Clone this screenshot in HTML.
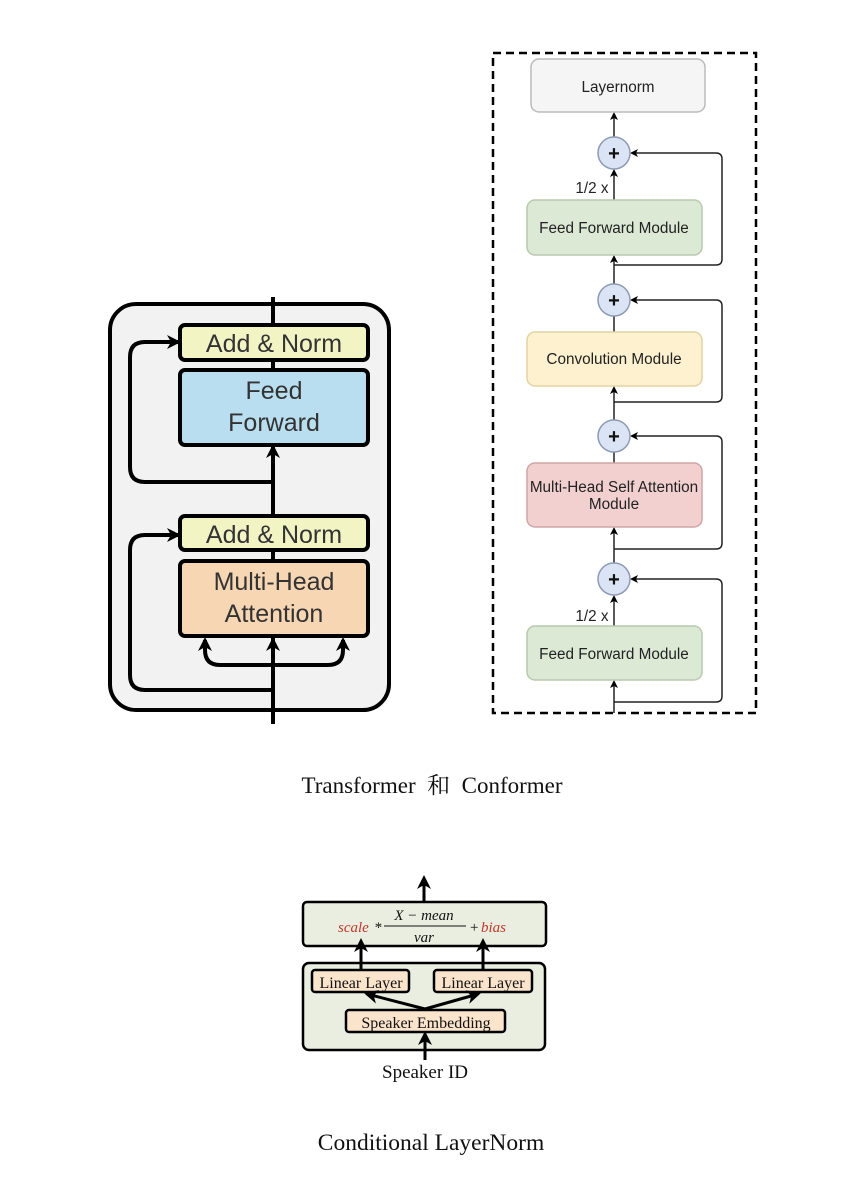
<!DOCTYPE html>
<html><head><meta charset="utf-8"><style>
body{margin:0;background:#fff}
svg{display:block}
.s{font-family:"Liberation Sans",sans-serif}
.r{font-family:"Liberation Serif","Noto Serif CJK SC",serif}
</style></head><body>
<svg width="854" height="1180" viewBox="0 0 854 1180" xmlns="http://www.w3.org/2000/svg">
<defs>
<marker id="a" markerWidth="8" markerHeight="8" refX="6" refY="4" orient="auto" markerUnits="userSpaceOnUse"><path d="M0,0 L8,4 L0,8 L2,4z" fill="#000"/></marker>
<marker id="b" markerWidth="14" markerHeight="14" refX="11" refY="7" orient="auto" markerUnits="userSpaceOnUse"><path d="M0,0 L14,7 L0,14 L4,7z" fill="#000"/></marker>
</defs>
<!-- Transformer -->
<rect x="110" y="304" width="279" height="406" rx="26" fill="#f2f2f2" stroke="#000" stroke-width="4"/>
<line x1="273" y1="297" x2="273" y2="724" stroke="#000" stroke-width="4"/>
<g stroke="#000" stroke-width="4" fill="none">
<path d="M273,482 H145 Q130,482 130,467 V357 Q130,342 145,342 H178" marker-end="url(#b)"/>
<path d="M273,690 H145 Q130,690 130,675 V550 Q130,535 145,535 H178" marker-end="url(#b)"/>
<path d="M273,665 H220 Q205,665 205,650 V640" marker-end="url(#b)"/>
<path d="M273,665 H328 Q343,665 343,650 V640" marker-end="url(#b)"/>
<path d="M273,520 V447" marker-end="url(#b)"/>
<path d="M273,665 V640" marker-end="url(#b)"/>
</g>
<rect x="180" y="325" width="188" height="35" rx="5" fill="#f3f4c4" stroke="#000" stroke-width="4"/>
<rect x="180" y="370" width="188" height="75" rx="5" fill="#b9def0" stroke="#000" stroke-width="4"/>
<rect x="180" y="516" width="188" height="34" rx="5" fill="#f3f4c4" stroke="#000" stroke-width="4"/>
<rect x="180" y="561" width="188" height="75" rx="5" fill="#f7d6b3" stroke="#000" stroke-width="4"/>
<g class="s" font-size="25" fill="#333" text-anchor="middle">
<text x="274" y="352">Add &amp; Norm</text>
<text x="274" y="399">Feed</text><text x="274" y="431">Forward</text>
<text x="274" y="543">Add &amp; Norm</text>
<text x="274" y="590">Multi-Head</text><text x="274" y="622">Attention</text>
</g>
<!-- Conformer -->
<rect x="493" y="53" width="263" height="660" fill="none" stroke="#000" stroke-width="2.5" stroke-dasharray="8,5"/>
<g stroke="#222" stroke-width="1.5" fill="none">
<line x1="614" y1="137" x2="614" y2="114" marker-end="url(#a)"/>
<line x1="614" y1="200" x2="614" y2="171" marker-end="url(#a)"/>
<line x1="614" y1="284" x2="614" y2="257" marker-end="url(#a)"/>
<line x1="614" y1="332" x2="614" y2="316"/>
<line x1="614" y1="420" x2="614" y2="388" marker-end="url(#a)"/>
<line x1="614" y1="463" x2="614" y2="452"/>
<line x1="614" y1="563" x2="614" y2="529" marker-end="url(#a)"/>
<line x1="614" y1="626" x2="614" y2="597" marker-end="url(#a)"/>
<line x1="614" y1="713" x2="614" y2="682" marker-end="url(#a)"/>
<path d="M614,265 H716 Q722,265 722,259 V159 Q722,153 716,153 H632" marker-end="url(#a)"/>
<path d="M614,402 H716 Q722,402 722,396 V306 Q722,300 716,300 H632" marker-end="url(#a)"/>
<path d="M614,549 H716 Q722,549 722,543 V442 Q722,436 716,436 H632" marker-end="url(#a)"/>
<path d="M614,702 H716 Q722,702 722,696 V585 Q722,579 716,579 H632" marker-end="url(#a)"/>
</g>
<rect x="531" y="59" width="174" height="53" rx="8" fill="#f5f5f5" stroke="#bbb" stroke-width="1.5"/>
<rect x="527" y="200" width="175" height="55" rx="8" fill="#dce9d5" stroke="#b8c9ae" stroke-width="1.5"/>
<rect x="527" y="332" width="175" height="54" rx="8" fill="#fdf1cf" stroke="#e3d3a0" stroke-width="1.5"/>
<rect x="527" y="463" width="175" height="64" rx="8" fill="#f3d0d0" stroke="#cfa5a5" stroke-width="1.5"/>
<rect x="527" y="626" width="175" height="54" rx="8" fill="#dce9d5" stroke="#b8c9ae" stroke-width="1.5"/>
<g fill="#dbe4f5" stroke="#8e9bb5" stroke-width="1.5">
<circle cx="614" cy="153" r="16"/><circle cx="614" cy="300" r="16"/><circle cx="614" cy="436" r="16"/><circle cx="614" cy="579" r="16"/>
</g>
<g class="s" font-size="20" font-weight="bold" fill="#111" text-anchor="middle">
<text x="614" y="160">+</text><text x="614" y="307">+</text><text x="614" y="443">+</text><text x="614" y="586">+</text>
</g>
<g class="s" font-size="15.3" fill="#222" text-anchor="middle">
<text x="618" y="92">Layernorm</text>
<text x="614" y="233">Feed Forward Module</text>
<text x="614" y="364">Convolution Module</text>
<text x="614" y="492">Multi-Head Self Attention</text>
<text x="614" y="509">Module</text>
<text x="614" y="659">Feed Forward Module</text>
<text x="592" y="193">1/2 x</text>
<text x="592" y="621">1/2 x</text>
</g>
<text class="r" x="432" y="793" font-size="23" text-anchor="middle" fill="#111" xml:space="preserve">Transformer  和  Conformer</text>
<!-- Conditional LayerNorm -->
<rect x="303" y="902" width="243" height="44" rx="4" fill="#e9eee0" stroke="#000" stroke-width="2.5"/>
<rect x="303" y="963" width="242" height="87" rx="6" fill="#e9eee0" stroke="#000" stroke-width="2.5"/>
<rect x="312" y="970" width="97" height="22" rx="3" fill="#fbe4cc" stroke="#000" stroke-width="2.5"/>
<rect x="434" y="970" width="98" height="22" rx="3" fill="#fbe4cc" stroke="#000" stroke-width="2.5"/>
<rect x="346" y="1010" width="159" height="22" rx="3" fill="#fbe4cc" stroke="#000" stroke-width="2.5"/>
<g stroke="#000" stroke-width="3" fill="none">
<line x1="424" y1="902" x2="424" y2="878" marker-end="url(#b)"/>
<line x1="361" y1="969" x2="361" y2="941" marker-end="url(#b)"/>
<line x1="483" y1="969" x2="483" y2="941" marker-end="url(#b)"/>
<line x1="425" y1="1009" x2="367" y2="994" marker-end="url(#b)"/>
<line x1="425" y1="1009" x2="478" y2="994" marker-end="url(#b)"/>
<line x1="425" y1="1060" x2="425" y2="1034" marker-end="url(#b)"/>
</g>
<g class="r" font-size="16" fill="#111" text-anchor="middle">
<text x="361" y="988">Linear Layer</text>
<text x="483" y="988">Linear Layer</text>
<text x="426" y="1028">Speaker Embedding</text>
<text x="425" y="1078" font-size="19">Speaker ID</text>
</g>
<g class="r" font-style="italic" font-size="15">
<text x="338" y="932" fill="#c0392b">scale</text>
<text x="374" y="932" fill="#111">*</text>
<text x="424" y="920" fill="#111" text-anchor="middle">X − mean</text>
<line x1="384" y1="926" x2="466" y2="926" stroke="#111" stroke-width="1"/>
<text x="424" y="942" fill="#111" text-anchor="middle">var</text>
<text x="470" y="932" fill="#111" font-style="normal">+</text>
<text x="481" y="932" fill="#c0392b">bias</text>
</g>
<text class="r" x="431" y="1150" font-size="23.5" text-anchor="middle" fill="#111">Conditional LayerNorm</text>
</svg>
</body></html>
